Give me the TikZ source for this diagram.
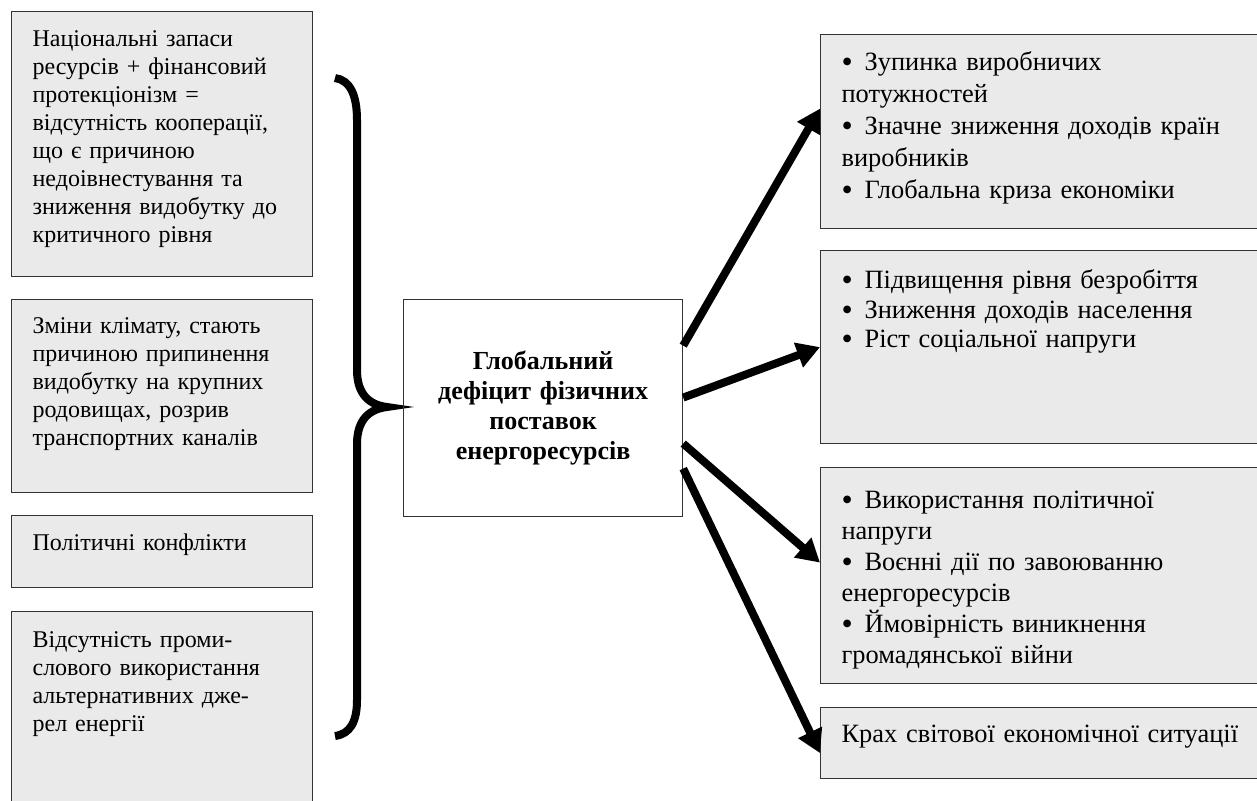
\documentclass[tikz,border=0pt]{standalone}
\usepackage{fontspec}
\setmainfont{Liberation Serif}
\usetikzlibrary{arrows.meta}
\definecolor{boxgray}{RGB}{234,234,234}
\newcommand{\blt}{\makebox[23pt][l]{\raisebox{-2pt}{\fontsize{32}{32}\selectfont\textbullet}}}

\begin{document}
\begin{tikzpicture}[x=1pt, y=-1pt,
		cause/.style={draw=black!80, line width=1.2pt, fill=boxgray, anchor=north west, align=left, inner xsep=21pt, inner ysep=13pt, text width=259pt, font=\fontsize{24}{28}\selectfont},
		effect/.style={cause, text width=400pt},
		deficit/.style={draw=black!80, line width=1.2pt, anchor=north west, minimum width=279pt, minimum height=217pt, align=center, text width=250pt, font=\bfseries\fontsize{26}{30}\selectfont},
		arr/.style={line width=8pt, -{Triangle[length=23pt,width=25pt]}}]
			\useasboundingbox (0,0) rectangle (1257,800);

			\node[cause, text height=22pt, text depth=217pt] (c1) at (11,11) {Національні запаси\\ресурсів + фінансовий\\протекціонізм =\\відсутність кооперації,\\що є причиною\\недоівнестування та\\зниження видобутку до\\критичного рівня};
			\node[cause, text height=21pt, text depth=146pt] (c2) at (11,299) {Зміни клімату, стають\\причиною припинення\\видобутку на крупних\\родовищах, розрив\\транспортних каналів};
			\node[cause, text height=22pt, text depth=24pt] (c3) at (11,515) {Політичні конфлікти};
			\node[cause, text height=23pt, text depth=151pt] (c4) at (11,611) {Відсутність проми-\\слового використання\\альтернативних дже-\\рел енергії};

			\draw[line width=8pt] (335,78) .. controls (350,80) and (357,95) .. (357,120) -- (357,370)
				.. controls (357,395) and (370,405) .. (387,407) .. controls (370,409) and (357,419) .. (357,444)
				-- (357,700) .. controls (357,722) and (350,734) .. (335,736);

			\node[deficit] (ctr) at (403,299) {Глобальний\\дефіцит фізичних\\поставок\\енергоресурсів};

			\node[effect, text height=23pt, text depth=145pt, font=\fontsize{26.4}{32}\selectfont] (e1) at (820,34) {\blt Зупинка виробничих\\потужностей\\\blt Значне зниження доходів країн\\виробників\\\blt Глобальна криза економіки};
			\node[effect, text height=25pt, text depth=142pt, font=\fontsize{26.4}{29.5}\selectfont] (e2) at (820,250) {\blt Підвищення рівня безробіття\\\blt Зниження доходів населення\\\blt Ріст соціальної напруги};
			\node[effect, text height=28pt, text depth=162pt, font=\fontsize{26.4}{31}\selectfont] (e3) at (820,467) {\blt Використання політичної\\напруги\\\blt Воєнні дії по завоюванню\\енергоресурсів\\\blt Ймовірність виникнення\\громадянської війни};
			\node[effect, text height=22pt, text depth=23pt, font=\fontsize{26.4}{30}\selectfont] (e4) at (820,707) {Крах світової економічної ситуації};

			\draw[arr] ([yshift=62.5pt]ctr.east) -- ([yshift=23pt]e1.west);
			\draw[arr] ([yshift=10.5pt]ctr.east) -- (e2.west);
			\draw[arr] ([yshift=-35.5pt]ctr.east) -- ([yshift=13pt]e3.west);
			\draw[arr] ([yshift=-60.5pt]ctr.east) -- ([yshift=-10pt]e4.west);
		\end{tikzpicture}
\end{document}
